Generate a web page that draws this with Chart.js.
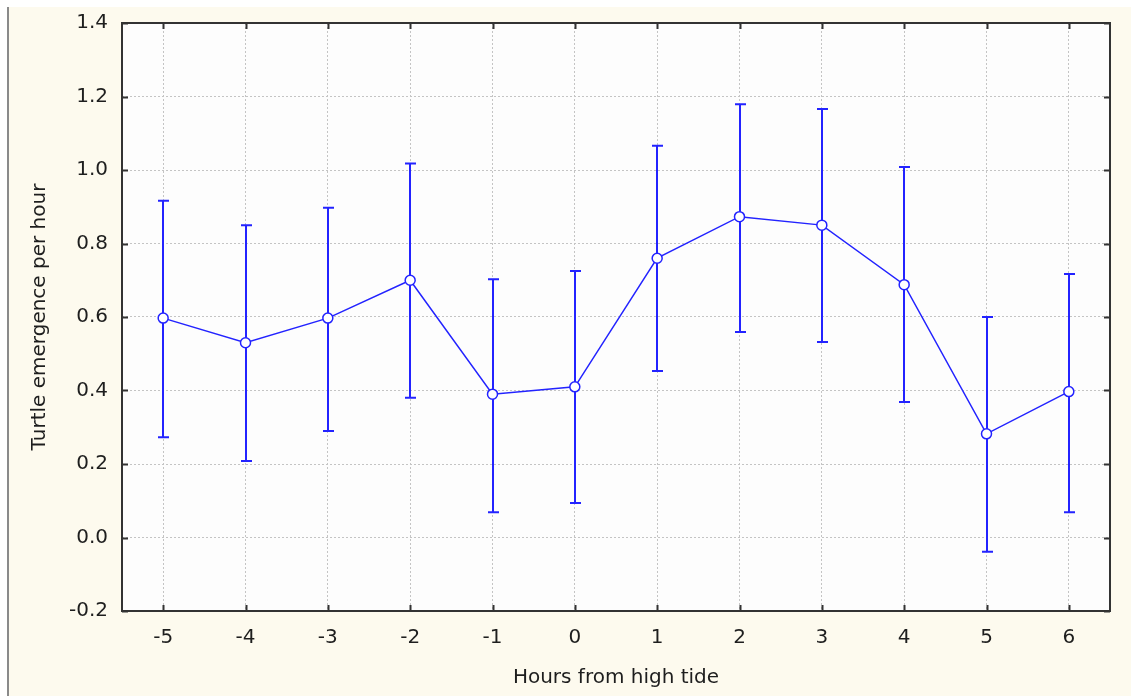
<!DOCTYPE html>
<html>
<head>
<meta charset="utf-8">
<script src="https://cdn.jsdelivr.net/npm/chart.js@4.4.1/dist/chart.umd.min.js"></script>
<style>
  html, body { margin: 0; padding: 0; background: #ffffff; }
  #wrap { width: 1131px; height: 696px; position: relative; }
</style>
</head>
<body>
<div id="wrap"><canvas id="tideChart" width="1131" height="696"></canvas></div>
<script>
// Data
const hours = ['-5', '-4', '-3', '-2', '-1', '0', '1', '2', '3', '4', '5', '6'];
const meanEmergence = [0.597, 0.530, 0.597, 0.700, 0.390, 0.410, 0.760, 0.873, 0.850, 0.688, 0.282, 0.397];
const upperCI = [0.916, 0.850, 0.897, 1.018, 0.703, 0.725, 1.066, 1.179, 1.166, 1.008, 0.600, 0.717];
const lowerCI = [0.273, 0.208, 0.290, 0.380, 0.069, 0.094, 0.453, 0.559, 0.532, 0.369, -0.039, 0.069];
const yTicks = [-0.2, 0.0, 0.2, 0.4, 0.6, 0.8, 1.0, 1.2, 1.4];

const blue = '#2323ff';
const ink = '#1e1e1e';

// Cream panel behind everything
const panelBg = {
    id: 'panelBg',
    beforeDraw(chart) {
        const c = chart.ctx;
        const a = chart.chartArea;
        c.save();
        c.fillStyle = '#ffffff';
        c.fillRect(0, 0, chart.width, chart.height);
        c.fillStyle = '#fdfaee';
        c.fillRect(8, 7, chart.width - 8, chart.height - 7);
        c.strokeStyle = '#8a8a8a';
        c.lineWidth = 2;
        c.beginPath();
        c.moveTo(8, 7);
        c.lineTo(8, chart.height);
        c.stroke();
        c.fillStyle = '#fdfdfd';
        c.fillRect(a.left, a.top, a.right - a.left, a.bottom - a.top);
        c.restore();
    }
};

// Frame + inside tick marks on all four sides
const frame = {
    id: 'frame',
    afterDraw(chart) {
        const c = chart.ctx;
        const a = chart.chartArea;
        const x = chart.scales.x, y = chart.scales.y;
        c.save();
        c.strokeStyle = '#333333';
        c.lineWidth = 2;
        c.strokeRect(a.left, a.top, a.right - a.left, a.bottom - a.top);
        c.beginPath();
        x.ticks.forEach((t, i) => {
            const px = Math.round(x.getPixelForTick(i)) + 0.5;
            c.moveTo(px, a.bottom); c.lineTo(px, a.bottom - 6);
            c.moveTo(px, a.top); c.lineTo(px, a.top + 6);
        });
        y.ticks.forEach((t, i) => {
            const py = Math.round(y.getPixelForTick(i)) + 0.5;
            c.moveTo(a.left, py); c.lineTo(a.left + 6, py);
            c.moveTo(a.right, py); c.lineTo(a.right - 6, py);
        });
        c.stroke();
        c.restore();
    }
};

// Whiskers for the confidence intervals
const errorBars = {
    id: 'errorBars',
    beforeDatasetsDraw(chart) {
        const c = chart.ctx;
        const x = chart.scales.x, y = chart.scales.y;
        c.save();
        c.strokeStyle = blue;
        c.lineWidth = 2;
        c.beginPath();
        hours.forEach((h, i) => {
            const px = Math.round(x.getPixelForValue(i));
            const top = y.getPixelForValue(upperCI[i]);
            const bot = y.getPixelForValue(lowerCI[i]);
            c.moveTo(px, top); c.lineTo(px, bot);
            c.moveTo(px - 5, top); c.lineTo(px + 6, top);
            c.moveTo(px - 5, bot); c.lineTo(px + 6, bot);
        });
        c.stroke();
        c.restore();
    }
};

const ctx = document.getElementById('tideChart').getContext('2d');
new Chart(ctx, {
    type: 'line',
    data: {
        labels: hours,
        datasets: [{
            label: 'Turtle emergence',
            data: meanEmergence,
            borderColor: blue,
            borderWidth: 1.5,
            backgroundColor: '#ffffff',
            pointBackgroundColor: '#ffffff',
            pointBorderColor: blue,
            pointBorderWidth: 1.5,
            pointRadius: 5,
            tension: 0,
            fill: false
        }]
    },
    options: {
        responsive: false,
        animation: false,
        layout: { padding: { top: 23, right: 21, left: 0, bottom: 0 } },
        plugins: {
            legend: { display: false },
            tooltip: { enabled: false }
        },
        scales: {
            x: {
                offset: true,
                afterFit: s => { s.height = 85; s.paddingLeft = 0; s.paddingRight = 0; },
                grid: {
                    offset: false,
                    color: '#c4c4c4',
                    lineWidth: 1,
                    drawTicks: false
                },
                border: { display: false, dash: [2, 2] },
                ticks: { color: ink, padding: 15, font: { family: 'DejaVu Sans', size: 20 } },
                title: {
                    display: true,
                    text: 'Hours from high tide',
                    color: ink,
                    font: { family: 'DejaVu Sans', size: 20 },
                    padding: { top: 0, bottom: 6 }
                }
            },
            y: {
                min: -0.2,
                max: 1.4,
                afterFit: s => { s.width = 122; s.paddingTop = 0; s.paddingBottom = 0; },
                afterBuildTicks: s => { s.ticks = yTicks.map(v => ({ value: v })); },
                grid: {
                    color: '#c4c4c4',
                    lineWidth: 1,
                    drawTicks: false
                },
                border: { display: false, dash: [2, 2] },
                ticks: {
                    color: ink,
                    padding: 14,
                    font: { family: 'DejaVu Sans', size: 20 },
                    callback: v => v.toFixed(1)
                },
                title: {
                    display: true,
                    text: 'Turtle emergence per hour',
                    color: ink,
                    font: { family: 'DejaVu Sans', size: 20 },
                    padding: { top: 28, bottom: 0 }
                }
            }
        }
    },
    plugins: [panelBg, errorBars, frame]
});
</script>
</body>
</html>
